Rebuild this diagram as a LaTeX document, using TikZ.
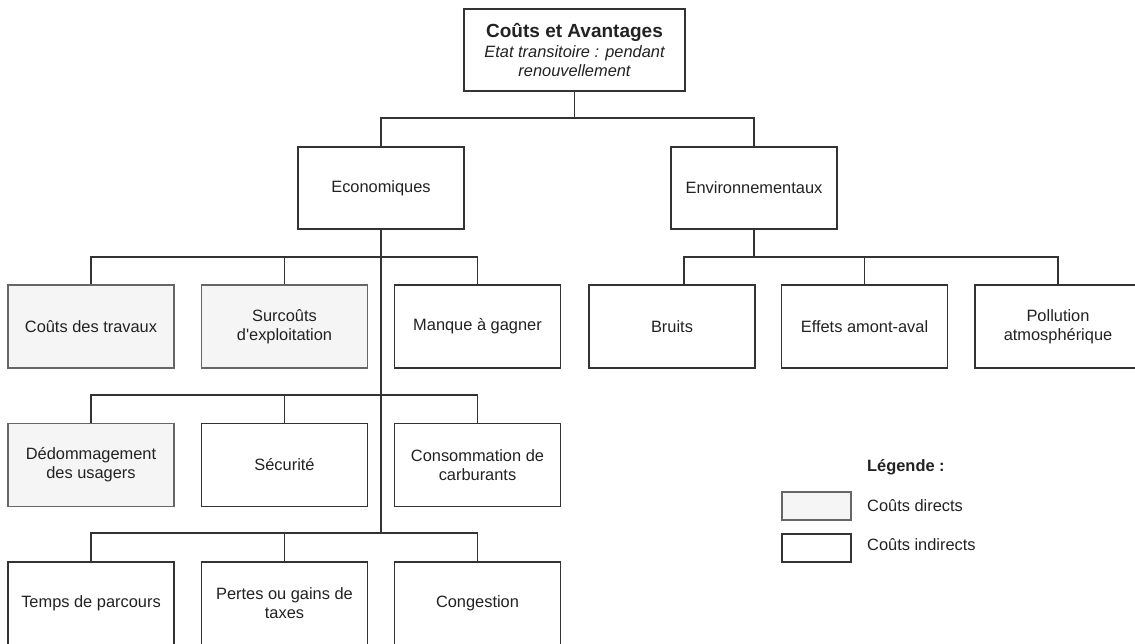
\documentclass[tikz,border=0pt]{standalone}
\usepackage{fontspec}
\setmainfont{Liberation Sans}
\newfontfamily\plainsans{Liberation Sans}
\definecolor{linec}{HTML}{333333}
\definecolor{txt}{HTML}{222222}
\definecolor{greyfill}{HTML}{F5F5F5}
\definecolor{greyline}{HTML}{666666}
\begin{document}
\begin{tikzpicture}[x=1pt,y=-1pt,
  box/.style={draw=linec,line width=1.3pt,fill=white,rectangle,minimum width=166pt,minimum height=83pt,inner sep=0pt,align=center,text=txt,font=\plainsans\fontsize{16.4}{19}\selectfont},
  directbox/.style={box,fill=greyfill,draw=greyline},
  conn/.style={draw=linec,line width=1.3pt},
  lbl/.style={anchor=west,text=txt,inner sep=0pt,font=\plainsans\fontsize{16.4}{19}\selectfont}]
\useasboundingbox (0,0) rectangle (1135,644);
\fill[white] (0,0) rectangle (1135,644);
% top
\node[box,minimum width=221pt,minimum height=82pt] (top) at (574.5,50) {{\fontsize{19}{21}\selectfont\bfseries Coûts et Avantages}\\[1pt]\itshape Etat transitoire : pendant\\\itshape renouvellement};
\node[box,minimum height=82pt] (eco) at (381,188) {Economiques};
\node[box,minimum height=82pt] (env) at (754,188) {Environnementaux};
% eco row 1
\node[directbox] (c1) at (91,326.5) {Coûts des travaux};
\node[directbox] (c2) at (284.5,326.5) {Surcoûts\\d'exploitation};
\node[box] (c3) at (477.5,326.5) {Manque à gagner};
% eco row 2
\node[directbox] (d1) at (91,465) {Dédommagement\\des usagers};
\node[box] (d2) at (284.5,465) {Sécurité};
\node[box] (d3) at (477.5,465) {Consommation de\\carburants};
% eco row 3
\node[box] (e1) at (91,603.5) {Temps de parcours};
\node[box] (e2) at (284.5,603.5) {Pertes ou gains de\\taxes};
\node[box] (e3) at (477.5,603.5) {Congestion};
% env row
\node[box] (b1) at (672,326.5) {Bruits};
\node[box] (b2) at (864.5,326.5) {Effets amont-aval};
\node[box] (b3) at (1058,326.5) {Pollution\\atmosphérique};
% connectors top level
\draw[conn] (top.south) -- (top.south |- 0,118);
\draw[conn] (eco.north) |- (env.north |- 0,118) -- (env.north);
% eco trunk
\draw[conn] (eco.south) -- (eco.south |- 0,533);
\draw[conn] (c1.north) |- (c3.north |- 0,257) -- (c3.north);
\draw[conn] (c2.north) -- (c2.north |- 0,257);
\draw[conn] (d1.north) |- (d3.north |- 0,395) -- (d3.north);
\draw[conn] (d2.north) -- (d2.north |- 0,395);
\draw[conn] (e1.north) |- (e3.north |- 0,533) -- (e3.north);
\draw[conn] (e2.north) -- (e2.north |- 0,533);
% env
\draw[conn] (env.south) -- (env.south |- 0,257);
\draw[conn] ([xshift=12pt]b1.north) |- (b3.north |- 0,257) -- (b3.north);
\draw[conn] (b2.north) -- (b2.north |- 0,257);
% legend
\node[lbl,font=\plainsans\fontsize{16.4}{19}\selectfont\bfseries] (legt) at (867,467) {Légende :};
\node[directbox,minimum width=69pt,minimum height=28pt] (lg1) at (816.5,506) {};
\node[box,minimum width=69pt,minimum height=28pt] (lg2) at (816.5,548) {};
\node[lbl] (lt1) at (867,506) {Coûts directs};
\node[lbl] (lt2) at (867,545) {Coûts indirects};
\end{tikzpicture}
\end{document}
